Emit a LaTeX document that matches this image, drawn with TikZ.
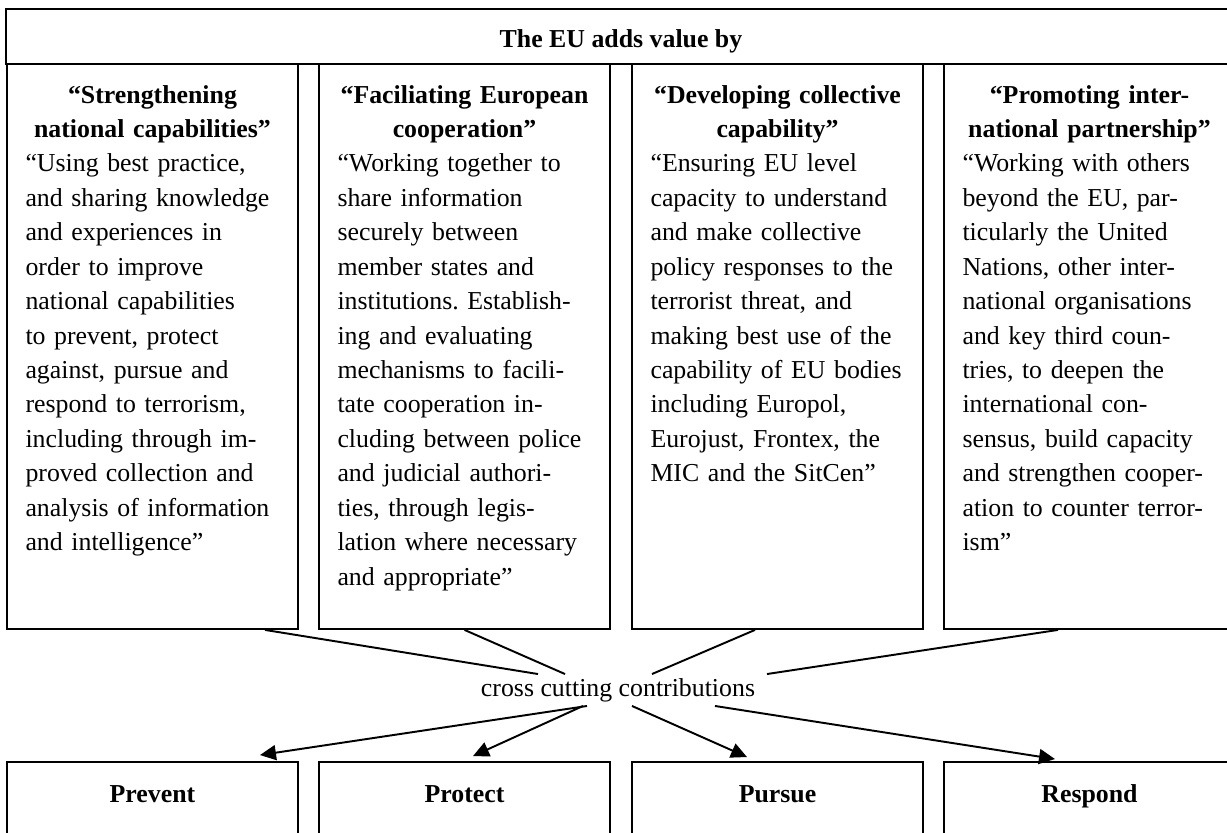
\documentclass[tikz,border=0pt]{standalone}
\usepackage{fontspec}
\setmainfont{Liberation Serif}
\usetikzlibrary{arrows.meta}
\frenchspacing

\begin{document}
\begin{tikzpicture}[x=0.02cm,y=-0.02cm,line width=1.1pt,
  font=\fontsize{14.7pt}{19.6pt}\selectfont,
  >={Triangle[length=0.32cm,width=0.3cm]},
  plainbox/.style={draw,minimum width=5.82cm,inner sep=0pt},
  colbox/.style={plainbox,minimum height=11.3cm},
  aimbox/.style={plainbox,minimum height=1.5cm,text height=0.34cm,text depth=0.24cm,
    font=\fontsize{14.7pt}{19.6pt}\selectfont\bfseries},
  coltext/.style={anchor=base,text width=5.08cm,align=left,inner sep=0pt}]
  \useasboundingbox (0,0) rectangle (1227,832);

  % header and the four columns
  \node[plainbox,minimum width=24.6cm,minimum height=1.1cm,text height=0.42cm,text depth=0pt,
    font=\fontsize{14.7pt}{19.6pt}\selectfont\bfseries] (head) at (621,36.5) {The EU adds value by};
  \node[colbox] (c1) at (152.5,346.5) {};
  \node[colbox] (c2) at (464.5,346.5) {};
  \node[colbox] (c3) at (777.5,346.5) {};
  \node[colbox] (c4) at (1089.5,346.5) {};

  \node[coltext] (t1) at (152.5,103) {{\centering\bfseries “Strengthening\\ national capabilities”\par}
    “Using best practice,\\ and sharing knowledge\\ and experiences in\\ order to improve\\
    national capabilities\\ to prevent, protect\\ against, pursue and\\ respond to terrorism,\\
    including through im-\\ proved collection and\\ analysis of information\\ and intelligence”};
  \node[coltext] (t2) at (464.5,103) {{\centering\bfseries “Faciliating European\\ cooperation”\par}
    “Working together to\\ share information\\ securely between\\ member states and\\
    institutions. Establish-\\ ing and evaluating\\ mechanisms to facili-\\ tate cooperation in-\\
    cluding between police\\ and judicial authori-\\ ties, through legis-\\ lation where necessary\\
    and appropriate”};
  \node[coltext] (t3) at (777.5,103) {{\centering\bfseries “Developing collective\\ capability”\par}
    “Ensuring EU level\\ capacity to understand\\ and make collective\\ policy responses to the\\
    terrorist threat, and\\ making best use of the\\ capability of EU bodies\\ including Europol,\\
    Eurojust, Frontex, the\\ MIC and the SitCen”};
  \node[coltext] (t4) at (1089.5,103) {{\centering\bfseries “Promoting inter-\\ national partnership”\par}
    “Working with others\\ beyond the EU, par-\\ ticularly the United\\ Nations, other inter-\\
    national organisations\\ and key third coun-\\ tries, to deepen the\\ international con-\\
    sensus, build capacity\\ and strengthen cooper-\\ ation to counter terror-\\ ism”};

  % the middle label and the four aims
  \node[inner xsep=0.22cm,inner ysep=0.08cm,text height=0.34cm,text depth=0.1cm] (cross) at (618,690)
    {cross cutting contributions};
  \node[aimbox] (p1) at (152.5,799.5) {Prevent};
  \node[aimbox] (p2) at (464.5,799.5) {Protect};
  \node[aimbox] (p3) at (777.5,799.5) {Pursue};
  \node[aimbox] (p4) at (1089.5,799.5) {Respond};

  \draw ([xshift=2.25cm]c1.south) -- ([xshift=-1.6cm]cross.north);
  \draw (c2.south) -- ([xshift=-1.06cm]cross.north);
  \draw ([xshift=-0.45cm]c3.south) -- ([xshift=0.68cm]cross.north);
  \draw ([xshift=-0.63cm]c4.south) -- (cross.north east);
  \draw[->] ([xshift=-0.62cm]cross.south) -- ([xshift=2.15cm,yshift=0.12cm]p1.north);
  \draw[->] ([xshift=-0.7cm]cross.south) -- ([xshift=0.17cm,yshift=0.1cm]p2.north);
  \draw[->] ([xshift=0.28cm]cross.south) -- ([xshift=-0.61cm,yshift=0.08cm]p3.north);
  \draw[->] ([xshift=1.94cm]cross.south) -- ([xshift=-0.69cm,yshift=0.04cm]p4.north);
\end{tikzpicture}
\end{document}
